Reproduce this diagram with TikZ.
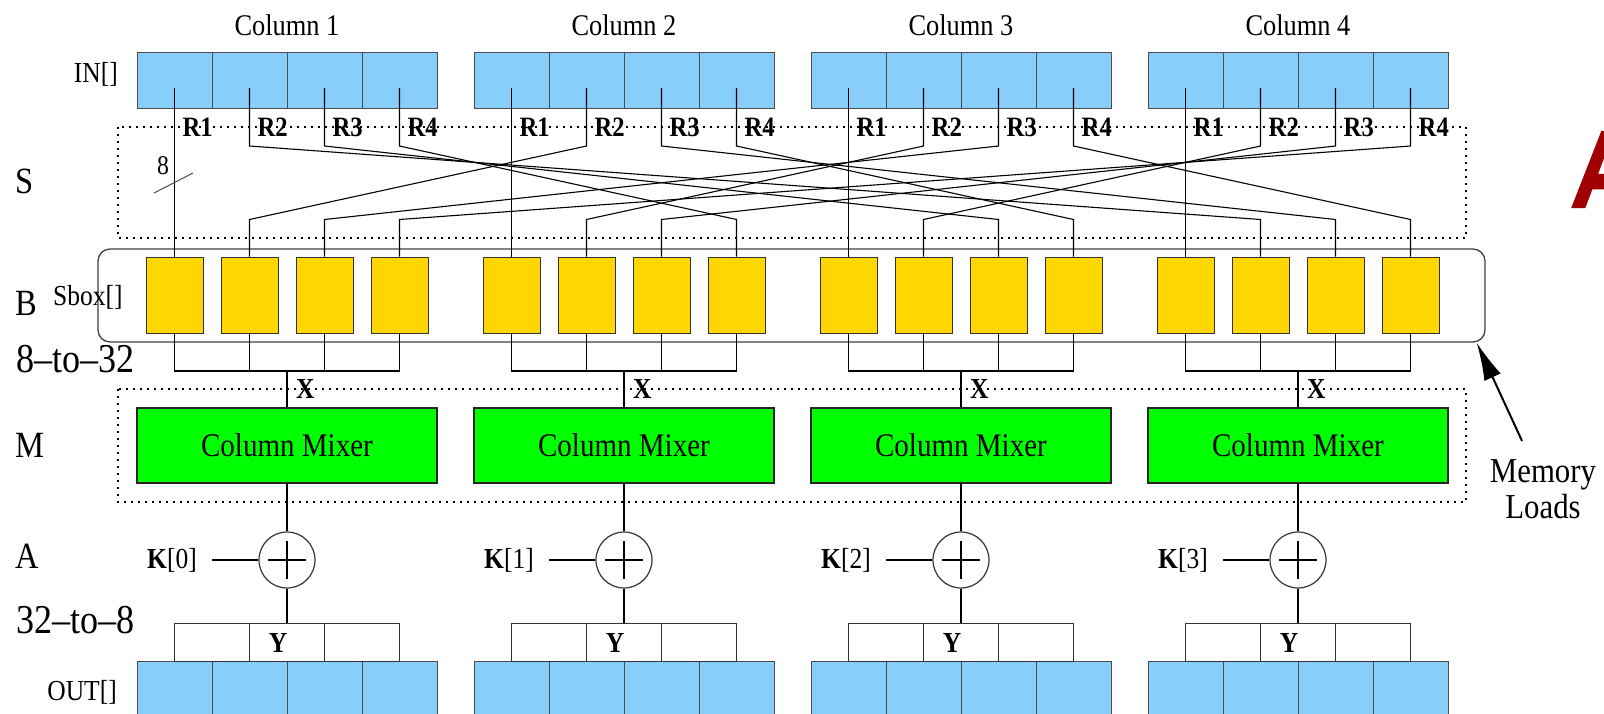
\documentclass[tikz,border=0pt]{standalone}
\usepackage{fontspec}
\setmainfont{Liberation Serif}[FakeStretch=0.88]
\newfontfamily\logofont{Liberation Sans}[FakeBold=4]
\usetikzlibrary{arrows.meta,calc}

\definecolor{inblue}{RGB}{135,206,250}
\definecolor{sboxgold}{RGB}{255,214,0}
\definecolor{mixgreen}{RGB}{0,255,0}
\definecolor{logored}{RGB}{160,0,0}

\newcommand{\fsz}[1]{\fontsize{#1}{#1}\selectfont}

\tikzset{
  cell/.style={draw=black!70, fill=inblue, line width=1pt, minimum width=75pt, minimum height=56pt, inner sep=0pt},
  ybox/.style={draw=black!80, line width=1pt, minimum width=75pt, minimum height=38pt, inner sep=0pt},
  sbox/.style={draw=black!80, fill=sboxgold, line width=1pt, minimum width=57pt, minimum height=76pt, inner sep=0pt},
  mixer/.style={draw=black!85, fill=mixgreen, line width=1.3pt, minimum width=300pt, minimum height=75pt, inner sep=0pt, font=\fsz{33}},
  xor/.style={circle, draw=black!80, line width=1.2pt, minimum size=56pt, inner sep=0pt},
  wire/.style={line width=1.1pt},
  dotbox/.style={line width=2pt, dash pattern=on 2pt off 5pt},
  title/.style={anchor=base, inner sep=0pt, font=\fsz{30}},
  rlab/.style={anchor=base west, inner sep=0pt, font=\bfseries\fsz{28}},
  side/.style={anchor=base west, inner sep=0pt, font=\fsz{37}},
  klab/.style={anchor=base east, inner sep=0pt, font=\fsz{29}},
  bold/.style={anchor=base, inner sep=0pt, font=\bfseries\fsz{29}}
}

\begin{document}
\begin{tikzpicture}[x=1pt,y=-1pt]
\useasboundingbox (0,0) rectangle (1604,713);
\clip (0,0) rectangle (1604,713);

    % Dotted regions S and M
    \draw[dotbox] (118,127) rectangle (1466,238);
    \draw[dotbox] (118,389) rectangle (1466,502);

    % Rounded frame of the Sbox row
    \node[draw=black!75, line width=1.3pt, rounded corners=12pt, minimum width=1387pt, minimum height=93pt, inner sep=0pt] (sboxrow) at (791.5,295.5) {};

    % Layer names on the left
    \node[side] (lab-s) at (15,193) {S};
    \node[side] (lab-b) at (15,315) {B};
    \node[side] (lab-m) at (15,457) {M};
    \node[side] (lab-a) at (15,568) {A};
    \node[side, font=\fsz{41}] (lab-up) at (16,372) {8--to--32};
    \node[side, font=\fsz{41}] (lab-down) at (16,633) {32--to--8};
    \node[side, font=\fsz{29}] (lab-sbox) at (53,305) {Sbox[]};
    \node[klab] (lab-in) at (118,82) {IN[]};
    \node[klab] (lab-out) at (117,700) {OUT[]};

\foreach \c in {1,...,4} {
    \pgfmathsetmacro\xl{137+337*(\c-1)}
    \pgfmathsetmacro\xm{\xl+150}
    \pgfmathtruncatemacro\kk{\c-1}
    \node[title] (col-\c) at (\xm,35) {Column \c};
    \foreach \r in {1,...,4} {
        \pgfmathsetmacro\xr{\xl+37.5+75*(\r-1)}
        \node[cell] (in-\c-\r) at (\xr,80) {};
        \node[cell] (out-\c-\r) at (\xr,689) {};
        \node[sbox] (sb-\c-\r) at (\xr,295) {};
        \node[rlab] (r-\c-\r) at (\xr+8,136) {R\r};
    }
    \foreach \j in {1,2,3} {
        \node[ybox] (y-\c-\j) at (\xl+75*\j,642) {};
    }
    \node[bold] (ytxt-\c) at (\xl+141,652) {Y};
    \node[mixer] (mix-\c) at (\xm,445.5) {Column Mixer};
    \node[xor] (xor-\c) at (\xm,560) {};
    \node[klab] (k-\c) at (\xl+60,568) {\textbf{K}[\kk]};
    \coordinate (mrg-\c) at (\xm,371);
    \node[bold, anchor=base west] (x-\c) at (\xm+9,398) {X};

    % 8-to-32 merge into the mixer
    \draw[wire] (sb-\c-1.south) |- (sb-\c-4.south |- mrg-\c) -- (sb-\c-4.south);
    \draw[wire] (sb-\c-2.south) -- (sb-\c-2.south |- mrg-\c);
    \draw[wire] (sb-\c-3.south) -- (sb-\c-3.south |- mrg-\c);
    \draw[wire] (mrg-\c) -- (mix-\c.north);

    % key addition
    \draw[wire] (mix-\c.south) -- (xor-\c.north);
    \draw[wire] (xor-\c.south) -- (y-\c-2.north);
    \draw[wire] (xor-\c.west) -- ([xshift=15pt]k-\c.east |- xor-\c.west);
    \draw[wire] ($(xor-\c.center)+(-19,0)$) -- ($(xor-\c.center)+(19,0)$);
    \draw[wire] ($(xor-\c.center)+(0,-19)$) -- ($(xor-\c.center)+(0,19)$);
}

    % Row shifts from IN[] to the Sboxes
\foreach \c in {1,...,4} {
    \draw[wire] ([yshift=-8pt]in-\c-1.center) -- (sb-\c-1.north);
    \foreach \r in {2,3,4} {
        \pgfmathtruncatemacro\dst{mod(\c-\r+4,4)+1}
        \draw[wire] ([yshift=-8pt]in-\c-\r.center) -- ++(0,58) -- ($(sb-\dst-\r.north)+(0,-37)$) -- (sb-\dst-\r.north);
    }
}

    % Bus width mark
    \draw[line width=1pt, black!70] (154,193) -- (193,173);
    \node[inner sep=0pt, font=\fsz{27}] (bus) at (163,166) {8};

    % Memory loads
    \node[title, font=\fsz{35}] (mem1) at (1543,482) {Memory};
    \node[title, font=\fsz{35}] (mem2) at (1543,518) {Loads};
    \draw[-{Latex[length=38pt,width=18pt]}, line width=2pt] ([xshift=-21pt,yshift=18pt]mem1.north) -- ([xshift=-9pt]sboxrow.south east);

    % Red letter cut by the right edge
    \node[anchor=base west, inner sep=0pt, text=logored, font=\logofont\bfseries\itshape\fsz{106}] (logo) at (1575,206) {\scalebox{0.7}[1]{A}};

\end{tikzpicture}
\end{document}
